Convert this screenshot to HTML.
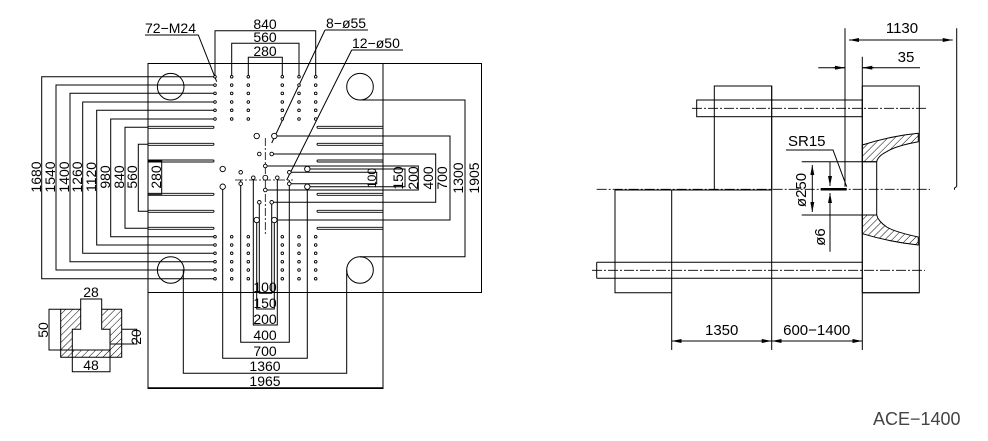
<!DOCTYPE html>
<html><head><meta charset="utf-8"><style>
html,body{margin:0;padding:0;background:#fff;}
svg{display:block;}
text{font-family:"Liberation Sans",sans-serif;font-size:14px;fill:#000;}
.r text{font-size:15px;}
</style></head><body>
<svg width="988" height="441" viewBox="0 0 988 441" xmlns="http://www.w3.org/2000/svg">
<defs>
<pattern id="h" width="5" height="5" patternUnits="userSpaceOnUse" patternTransform="rotate(45)">
<line x1="0" y1="0" x2="0" y2="5" stroke="#000" stroke-width="1"/></pattern>
<marker id="a" viewBox="0 0 10 4" refX="10" refY="2" markerWidth="10" markerHeight="4" orient="auto-start-reverse" markerUnits="userSpaceOnUse"><path d="M0,0 L10,2 L0,4z" fill="#000"/></marker>
</defs>
<g stroke="#000" stroke-width="1" fill="none">
<rect x="148" y="63.5" width="235" height="325"/>
<line x1="383" y1="63.5" x2="482" y2="63.5"/>
<line x1="148" y1="292.5" x2="482" y2="292.5"/>
<line x1="481.5" y1="63.5" x2="481.5" y2="292.5"/>
<circle cx="170.7" cy="86.7" r="13.3"/><circle cx="360" cy="86.7" r="13.3"/>
<circle cx="170.7" cy="270" r="13.3"/><circle cx="360" cy="270" r="13.3"/>
<g stroke-width="0.9">
<path d="M148,126.3H213a1,1 0 0 1 0,2H148M148,143.3H213a1,1 0 0 1 0,2H148M148,160H213a1,1 0 0 1 0,2H148M148,193.3H213a1,1 0 0 1 0,2H148M148,210.3H213a1,1 0 0 1 0,2H148M148,227.3H213a1,1 0 0 1 0,2H148"/>
<path d="M383,126.3H318a1,1 0 0 0 0,2H383M383,143.3H318a1,1 0 0 0 0,2H383M383,160H318a1,1 0 0 0 0,2H383M383,193.3H318a1,1 0 0 0 0,2H383M383,210.3H318a1,1 0 0 0 0,2H383M383,227.3H318a1,1 0 0 0 0,2H383"/>
</g>
<path d="M215,76.7H41.7V278.7H215M215,85H56V270H215M215,93.3H70V261.7H215M215,102H82.7V253.3H215M215,110.3H96.7V245H215M215,119H110.7V236.7H215M148,127.3H125V228.3H148M148,144.3H138.3V211.3H148M148,161H161.7V194.3H148"/>
<path d="M360,100H465V256.7H360M274.3,136H450V220H274.3M271.7,154H435.7V202.3H271.7M265.3,166H418.3V190H265.3M307,169H405V186.7H307M289,172.3H376.7V183.7H289"/>
<path d="M215,76.7V30.7H315.7V76.7M231.7,76.7V43.3H299V76.7M248.3,76.7V57.3H282.3V76.7"/>
<path d="M259.3,202V293.3H271.7V202M256.7,220V309H274.3V220M253.3,180V325H277.3V180M240.7,180V342.3H289.3V180M222.7,186.7V358.3H307.3V186.7M183.3,270V373.3H346.7V270M148,387.7H383"/>
<path d="M235,180H293M265.3,138V235" stroke-dasharray="8,2,2,2" stroke-width="0.8"/>
<path d="M145,35H198.3L216.7,81.7M325,30H368M325,30L271.7,143M351.7,50H403M351.7,50L286.7,180"/>
</g>
<g fill="#fff" stroke="#000" stroke-width="0.9">
<g id="bt">
<circle cx="215" cy="76.7" r="1.3"/><circle cx="231.7" cy="76.7" r="1.3"/><circle cx="248.3" cy="76.7" r="1.3"/><circle cx="282.3" cy="76.7" r="1.3"/><circle cx="299" cy="76.7" r="1.3"/><circle cx="315.7" cy="76.7" r="1.3"/>
</g>
<use href="#bt" y="8.4"/><use href="#bt" y="16.7"/><use href="#bt" y="25.3"/><use href="#bt" y="33.6"/><use href="#bt" y="42.3"/>
<use href="#bt" y="160"/><use href="#bt" y="168.3"/><use href="#bt" y="176.6"/><use href="#bt" y="185"/><use href="#bt" y="193.3"/><use href="#bt" y="202"/>
<circle cx="256.7" cy="136" r="2.7"/><circle cx="274.3" cy="136" r="2.7"/><circle cx="222.7" cy="169" r="2.7"/><circle cx="222.7" cy="186.7" r="2.7"/><circle cx="307.3" cy="169" r="2.7"/><circle cx="307.3" cy="186.7" r="2.7"/><circle cx="256.7" cy="220" r="2.7"/><circle cx="274.3" cy="220" r="2.7"/>
<circle cx="259.3" cy="154" r="1.8"/><circle cx="271.7" cy="154" r="1.8"/><circle cx="265.3" cy="166" r="1.8"/><circle cx="240.7" cy="172.3" r="1.8"/><circle cx="240.7" cy="183.7" r="1.8"/><circle cx="253.3" cy="177.7" r="1.8"/><circle cx="265.3" cy="177.7" r="2.4"/><circle cx="277.3" cy="177.7" r="1.8"/><circle cx="289.3" cy="172.3" r="1.8"/><circle cx="289.3" cy="183.7" r="1.8"/><circle cx="265.3" cy="190" r="1.8"/><circle cx="259.3" cy="202.3" r="1.8"/><circle cx="271.7" cy="202.3" r="1.8"/>
</g>
<path d="M60.7,309.3H80.7V329.3H72.3V350H110V329.3H101.7V309.3H121.7V357.3H60.7Z" fill="url(#h)" stroke="#000"/>
<g stroke="#000" fill="none">
<path d="M80.7,309.3V299H101.7V309.3M60.7,309.3H49V350H72.3M121.7,329.3H136.7V344H110M72.3,350V371.7H110V350"/>
</g>
<g text-anchor="middle">
<text x="91" y="297">28</text><text x="91" y="370">48</text>
<text transform="translate(48,330) rotate(-90)">50</text>
<text transform="translate(141,337) rotate(-90)">20</text>
<text x="265" y="29">840</text><text x="265" y="42">560</text><text x="265" y="56">280</text>
<text x="265" y="292">100</text><text x="265" y="308">150</text><text x="265" y="324">200</text><text x="265" y="340">400</text><text x="265" y="356">700</text><text x="265" y="371">1360</text><text x="265" y="386">1965</text>
<text transform="translate(41,177) rotate(-90)">1680</text><text transform="translate(55,177) rotate(-90)">1540</text><text transform="translate(69,177) rotate(-90)">1400</text><text transform="translate(82,177) rotate(-90)">1260</text><text transform="translate(96,177) rotate(-90)">1120</text><text transform="translate(110,177) rotate(-90)">980</text><text transform="translate(124,177) rotate(-90)">840</text><text transform="translate(137,177) rotate(-90)">560</text><text transform="translate(161,177) rotate(-90)">280</text>
<text transform="translate(479,178) rotate(-90)">1905</text><text transform="translate(463,178) rotate(-90)">1300</text><text transform="translate(447,178) rotate(-90)">700</text><text transform="translate(433,178) rotate(-90)">400</text><text transform="translate(418,178) rotate(-90)">200</text><text transform="translate(403,178) rotate(-90)">150</text><text transform="translate(376,178) rotate(-90)" style="font-size:12px">100</text>
</g>
<text x="145" y="33">72−M24</text><text x="326" y="28">8−ø55</text><text x="352" y="48">12−ø50</text>

<g class="r">
<g stroke="#000" fill="none">
<rect x="714.3" y="86" width="57.4" height="104"/>
<rect x="862.3" y="86" width="57" height="206.7"/>
<rect x="696.7" y="100" width="165.6" height="16.7"/>
<path d="M615,190V292.7H671.7M862.3,292.7H919.3M671.7,190V350M771.7,86V350M862.3,56.7V350M596.7,262.3H862.3M596.7,278.3H862.3M596.7,262.3V278.3M615,262.3V278.3"/>
<path d="M615,190H714.3"/>
<path d="M692,108.3H927M596.7,189.3H930M592,270.3H925" stroke-dasharray="10,2,2,2" stroke-width="0.8"/>
<path d="M862.3,145Q890,136 918.3,133.3V141.7Q895,146 886.7,151.7Q878,156 876.7,161.7H862.3Z" fill="url(#h)"/>
<path d="M862.3,233.7Q890,242 918.3,245V237Q895,232 886.7,227Q878,221 876.7,215H862.3Z" fill="url(#h)"/>
<path d="M876.7,161.7V215M801.7,161.7H876.7M801.7,215H876.7"/>
<path d="M812.3,165V212" marker-start="url(#a)" marker-end="url(#a)"/>
<path d="M830,161.7V184M830,194V251.7"/>
<path d="M830,176V186" marker-end="url(#a)"/><path d="M830,203V193" marker-end="url(#a)"/>
<path d="M820.7,189.3H846.7" stroke-width="2.5"/>
<path d="M786,150H833L846.7,186.7"/>
<path d="M845,28.3V186.7M956.7,28.3V186.7M956.7,186.7q-3,1 -2,3"/>
<path d="M849,40H952.7" marker-start="url(#a)" marker-end="url(#a)"/>
<path d="M818.3,67.7H845M862.3,67.7H920"/>
<path d="M833,67.7H845" marker-end="url(#a)"/><path d="M874,67.7H862.3" marker-end="url(#a)"/>
<path d="M671.7,341H771.7" marker-start="url(#a)" marker-end="url(#a)"/>
<path d="M771.7,341H862.3" marker-start="url(#a)" marker-end="url(#a)"/>
</g>
<g text-anchor="middle">
<text x="902" y="33">1130</text><text x="906" y="62">35</text>
<text x="721.7" y="335">1350</text><text x="816.7" y="335">600−1400</text>
<text transform="translate(806,190) rotate(-90)">ø250</text>
<text transform="translate(825,237) rotate(-90)">ø6</text>
</g>
<text x="788" y="146">SR15</text>
</g>
<text x="873" y="425" style="font-size:18px;fill:#444">ACE−1400</text>
</svg>
</body></html>
